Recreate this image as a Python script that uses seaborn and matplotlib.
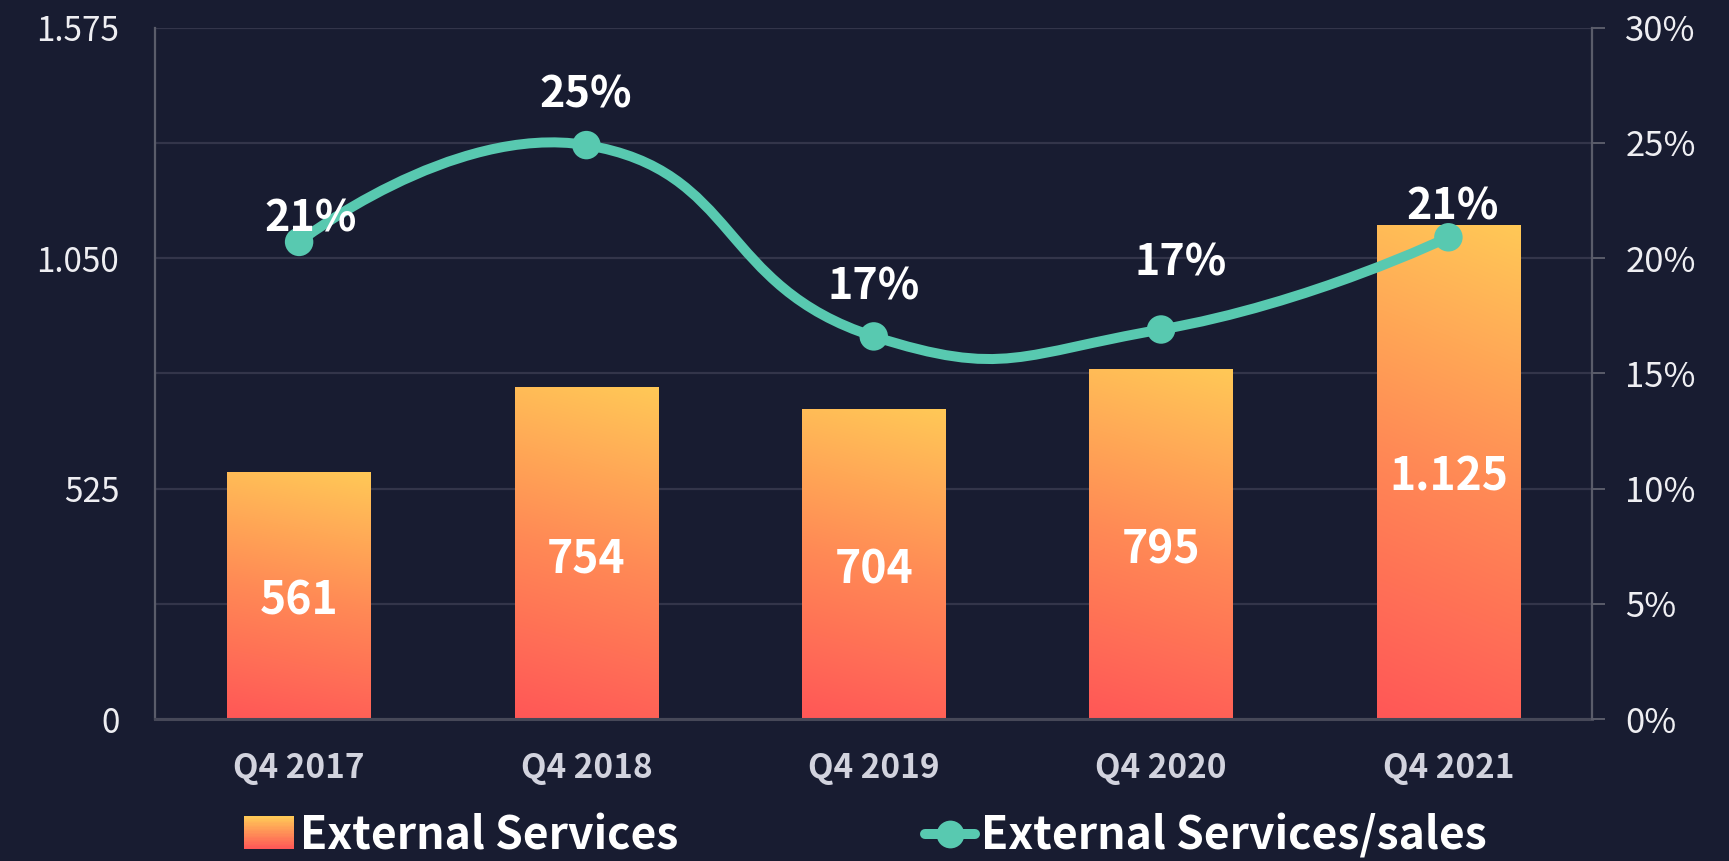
import numpy as np
import pandas as pd
import matplotlib
matplotlib.use("Agg")
import matplotlib.pyplot as plt
import seaborn as sns
from matplotlib.path import Path
from matplotlib.patches import PathPatch, Rectangle
from matplotlib.legend_handler import HandlerBase
from matplotlib.lines import Line2D
from matplotlib.colors import LinearSegmentedColormap, to_rgb

# ---------------- data ----------------
quarters = ["Q4 2017", "Q4 2018", "Q4 2019", "Q4 2020", "Q4 2021"]
external_services = [561, 754, 704, 795, 1125]
bar_labels = ["561", "754", "704", "795", "1.125"]
ratio_pct = [20.7, 24.9, 16.6, 16.9, 20.9]
ratio_labels = ["21%", "25%", "17%", "17%", "21%"]
left_ticks = [0, 525, 1050, 1575]
left_tick_labels = ["0", "525", "1.050", "1.575"]
right_ticks = [0, 5, 10, 15, 20, 25, 30]
right_tick_labels = ["0%", "5%", "10%", "15%", "20%", "25%", "30%"]
series_names = ["External Services", "External Services/sales"]

# ---------------- style ----------------
BG = "#181c31"
GRID = "#33354a"
SPINE = "#5a5c6a"
TEAL = "#58c9b0"
C_TOP = "#ffc857"
C_BOT = "#ff5757"
label_dx = [12, -1, 0, 20, 4]      # label offsets in pixels (layout only)
label_dy = [23, 51, 50, 67, 31]

sns.set_theme(style="dark")
plt.rcParams["font.family"] = ["Noto Sans CJK SC", "DejaVu Sans"]
plt.rcParams["axes.facecolor"] = BG
plt.rcParams["figure.facecolor"] = BG

fig = plt.figure(figsize=(17.29, 8.61), dpi=100, facecolor=BG)
ax = fig.add_axes([0.0899, 0.1649, 0.9208 - 0.0899, 0.968 - 0.1649])
ax.set_facecolor(BG)

df = pd.DataFrame({"quarter": quarters, "value": external_services})
sns.barplot(data=df, x="quarter", y="value", ax=ax, width=0.5,
            color="#ff8c55", saturation=1, zorder=3)

cmap = LinearSegmentedColormap.from_list("g", [C_BOT, "#ff8a55", C_TOP])
yy, xx = np.mgrid[0:1:200j, 0:1:20j]
grad = np.clip(0.9 * yy + 0.1 * xx, 0, 1)
for p in ax.patches:
    x0, w, h = p.get_x(), p.get_width(), p.get_height()
    ax.imshow(grad, extent=[x0, x0 + w, 0, h], origin="lower", cmap=cmap,
              aspect="auto", zorder=3, interpolation="bicubic")
    p.set_facecolor("none")
    p.set_edgecolor("none")

ax.set_xlim(-0.5, 4.5)
ax.set_ylim(0, 1575)
ax.set_yticks(left_ticks)
ax.set_yticklabels(left_tick_labels)
ax.set_yticks(np.linspace(0, 1575, 7), minor=True)
ax.set_axisbelow(True)
ax.grid(False)
ax.yaxis.grid(True, which="both", color=GRID, lw=1.6, zorder=0)
ax.set_xlabel("")
ax.set_ylabel("")
ax.tick_params(axis="y", which="both", length=0, pad=26, labelsize=24,
               labelcolor="#eeeef2")
ax.tick_params(axis="x", length=0, pad=24, labelsize=24, labelcolor="#d2d3de")
for t in ax.get_xticklabels():
    t.set_fontweight("bold")
for s in ["top", "right"]:
    ax.spines[s].set_visible(False)
ax.spines["left"].set_color(SPINE)
ax.spines["left"].set_linewidth(1.6)
ax.spines["bottom"].set_color("#464858")
ax.spines["bottom"].set_linewidth(2.2)
ax.spines["bottom"].set_zorder(5)

for i, (v, lab) in enumerate(zip(external_services, bar_labels)):
    ax.annotate(lab, (i, v / 2), xytext=(0, -4), textcoords="offset points",
                ha="center", va="center", color="white",
                fontsize=32, fontweight="bold", zorder=6)

# ---------------- right axis / line ----------------
ax2 = ax.twinx()
ax2.set_ylim(0, 30)
ax2.set_yticks(right_ticks)
ax2.set_yticklabels(right_tick_labels)
ax2.grid(False)
ax2.patch.set_visible(False)
for s in ["top", "left", "bottom"]:
    ax2.spines[s].set_visible(False)
ax2.spines["right"].set_color(SPINE)
ax2.spines["right"].set_linewidth(1.6)
ax2.tick_params(axis="y", length=9, width=1.4, color=SPINE, pad=15,
                labelsize=25, labelcolor="#eeeef2", direction="out")

# echarts-like smooth curve built from the data points in pixel space
xs = np.arange(len(ratio_pct), dtype=float)
pts = ax2.transData.transform(np.column_stack([xs, ratio_pct]))
smooth = 0.5
n = len(pts)
verts = [pts[0]]
codes = [Path.MOVETO]
cp_next = pts[0]
for i in range(1, n):
    p = pts[i]
    if i == n - 1:
        cp_in = p
    else:
        prev, nxt = pts[i - 1], pts[i + 1]
        v = nxt - prev
        lp = np.hypot(*(p - prev))
        ln = np.hypot(*(nxt - p))
        r = ln / (ln + lp)
        cp_in = p - v * smooth * (1 - r)
    verts += [cp_next, cp_in, p]
    codes += [Path.CURVE4] * 3
    if i < n - 1:
        prev, nxt = pts[i - 1], pts[i + 1]
        v = nxt - prev
        lp = np.hypot(*(p - prev))
        ln = np.hypot(*(nxt - p))
        r = ln / (ln + lp)
        cp_next = p + v * smooth * r
data_verts = ax2.transData.inverted().transform(np.array(verts))
curve = PathPatch(Path(data_verts, codes), facecolor="none", edgecolor=TEAL,
                  lw=7.2, capstyle="round", joinstyle="round", zorder=4)
ax2.add_patch(curve)
sns.scatterplot(x=xs, y=ratio_pct, ax=ax2, s=420, color=TEAL,
                edgecolor="none", zorder=5, legend=False)
ax2.set_ylim(0, 30)
ax2.set_xlim(-0.5, 4.5)

for i, (v, lab) in enumerate(zip(ratio_pct, ratio_labels)):
    ax2.annotate(lab, (i, v), xytext=(label_dx[i] * 0.72, label_dy[i] * 0.72),
                 textcoords="offset points", ha="center", va="center",
                 color="white", fontsize=31, fontweight="bold", zorder=7)

# ---------------- legend ----------------
class GradientHandler(HandlerBase):
    def create_artists(self, legend, orig, xd, yd, width, height, fontsize, trans):
        arts = []
        n = 24
        c0, c1 = np.array(to_rgb(C_BOT)), np.array(to_rgb(C_TOP))
        for k in range(n):
            t = k / (n - 1)
            r = Rectangle((xd, yd + height * k / n), width, height / n + 0.3,
                          facecolor=c0 + (c1 - c0) * t, edgecolor="none",
                          transform=trans)
            arts.append(r)
        return arts

bar_handle = Rectangle((0, 0), 1, 1)
line_handle = Line2D([0], [0], color=TEAL, lw=7.2, marker="o", ms=20,
                     markeredgecolor="none")
leg = fig.legend([bar_handle, line_handle], series_names,
                 handler_map={Rectangle: GradientHandler()},
                 loc="center left", bbox_to_anchor=(0.141, 0.028), ncol=2,
                 frameon=False, fontsize=32, handlelength=1.12,
                 handleheight=0.75, handletextpad=0.14, columnspacing=5.55,
                 borderpad=0, borderaxespad=0)
for t in leg.get_texts():
    t.set_color("white")
    t.set_fontweight("bold")

fig.savefig("out.png", dpi=100, facecolor=BG)
